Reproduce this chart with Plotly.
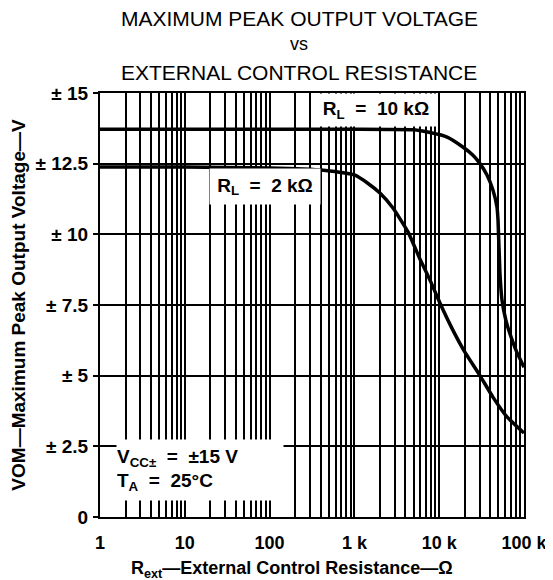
import plotly.graph_objects as go

# curve readings
rext_10k = [1, 100, 1000, 5000, 7800, 12400, 19000, 25000, 30000, 36600, 43000,
            48000, 49400, 52000, 55000, 61000, 68000, 82000, 100000]
vom_10k = [13.72, 13.72, 13.72, 13.7, 13.6, 13.44, 13.09, 12.8, 12.52, 12.1, 11.57,
           10.97, 10.5, 8.63, 7.68, 6.97, 6.5, 5.84, 5.3]

rext_2k = [1, 10, 100, 300, 515, 1000, 1450, 2000, 2850, 4300, 6000, 7800, 10200,
           14500, 20000, 30000, 43000, 63000, 100000]
vom_2k = [12.38, 12.38, 12.35, 12.3, 12.24, 12.1, 11.8, 11.46, 10.93, 10.08, 9.09,
          8.38, 7.57, 6.61, 5.84, 5.02, 4.24, 3.54, 2.97]

x_ticks = [1, 10, 100, 1000, 10000, 100000]
x_ticktext = ["1", "10", "100", "1 k", "10 k", "100 k"]
y_ticks = [0, 2.5, 5, 7.5, 10, 12.5, 15]
y_ticktext = ["0", "± 2.5", "± 5", "± 7.5", "± 10", "± 12.5", "± 15"]

FONT = "Liberation Sans, Arial, sans-serif"
minor_vals = [m * 10**e for e in range(5) for m in range(2, 10)]

fig = go.Figure()
for xs, ys in [(rext_10k, vom_10k), (rext_2k, vom_2k)]:
    fig.add_trace(go.Scatter(
        x=xs, y=ys, mode="lines",
        line=dict(color="black", width=3.5, shape="spline", smoothing=0.4),
        showlegend=False, hoverinfo="skip"))

# the page body has an 8px margin, so the figure is 8px smaller than the window
fig.update_layout(
    width=545, height=572,
    margin=dict(l=92, r=29, t=85, b=63),
    paper_bgcolor="white", plot_bgcolor="white",
    font=dict(family=FONT, color="black"),
)

fig.update_xaxes(
    type="log", range=[0, 5], automargin=False,
    tickmode="array", tickvals=x_ticks, ticktext=x_ticktext,
    tickfont=dict(size=18, family=FONT, weight="bold"),
    ticklabeloverflow="allow",
    showgrid=True, gridcolor="black", gridwidth=2,
    minor=dict(tickmode="array", tickvals=minor_vals, showgrid=True,
               gridcolor="black", gridwidth=1.5),
    showline=True, linecolor="black", linewidth=2, mirror=True,
    ticks="", ticklabelstandoff=8,
)
fig.update_yaxes(
    range=[0, 15], automargin=False,
    tickmode="array", tickvals=y_ticks, ticktext=y_ticktext,
    tickfont=dict(size=19, family=FONT, weight="bold"),
    showgrid=True, gridcolor="black", gridwidth=2, zeroline=False,
    showline=True, linecolor="black", linewidth=2, mirror=True,
    ticks="outside", ticklen=5, tickcolor="black", tickwidth=2,
    ticklabelstandoff=1,
    title=dict(text="VOM—Maximum Peak Output Voltage—V",
               font=dict(size=19, family=FONT, weight="bold"), standoff=8),
)

# x axis title sits a little left of the plot centre in the original
fig.add_annotation(text="R<sub>ext</sub>—External Control Resistance—Ω",
                   xref="paper", yref="paper", x=(292 - 100) / 424,
                   y=(517 - 569) / 424, xanchor="center", yanchor="middle",
                   showarrow=False, font=dict(size=18, family=FONT, weight="bold"))

# chart title, three lines
for txt, ypx, sz in [("MAXIMUM PEAK OUTPUT VOLTAGE", 18, 21),
                     ("vs", 44, 18),
                     ("EXTERNAL CONTROL RESISTANCE", 73, 21)]:
    fig.add_annotation(text=txt, xref="paper", yref="paper",
                       x=(299 - 100) / 424, y=(517 - ypx) / 424,
                       xanchor="center", yanchor="middle", showarrow=False,
                       font=dict(size=sz, family=FONT))

lab = dict(size=19, family=FONT, weight="bold")
fig.add_annotation(text="R<sub>L</sub>  =  10 kΩ", x=3.25, y=14.4,
                   showarrow=False, bgcolor="white", width=120, height=30,
                   font=lab)
fig.add_annotation(text="R<sub>L</sub>  =  2 kΩ", x=1.95, y=11.69,
                   showarrow=False, bgcolor="white", width=108, height=33,
                   font=lab)
fig.add_annotation(text="V<sub>CC±</sub>  =  ±15 V<br>T<sub>A</sub>  =  25°C",
                   x=1.18, y=1.66, showarrow=False, bgcolor="white",
                   width=166, height=60, align="left", borderpad=0,
                   font=lab)

fig.write_html("out.html")
